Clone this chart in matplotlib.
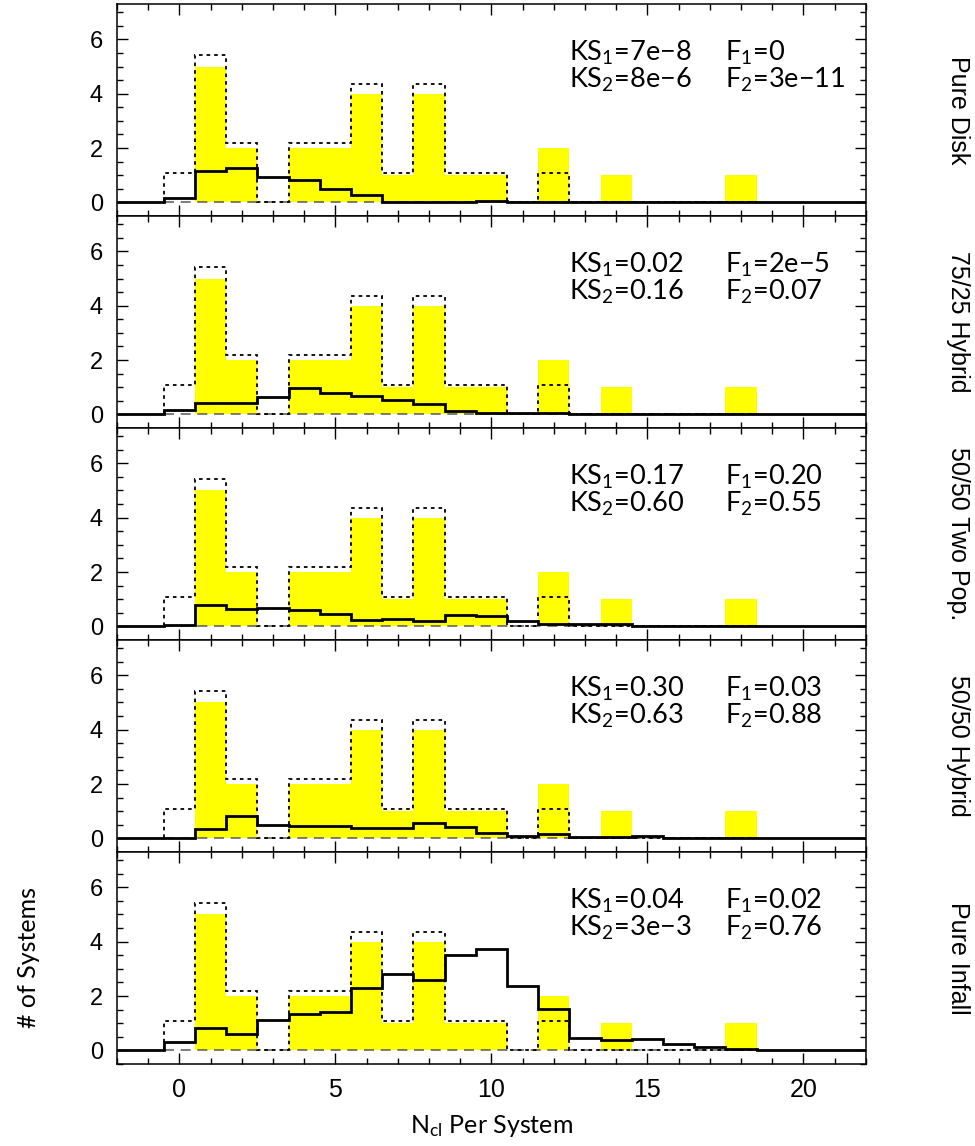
import numpy as np
import matplotlib.pyplot as plt
from matplotlib.ticker import MultipleLocator

plt.rcParams['font.family'] = ['Liberation Sans', 'DejaVu Sans']
plt.rcParams['mathtext.fontset'] = 'custom'
plt.rcParams['mathtext.rm'] = 'Lato'
plt.rcParams['mathtext.it'] = 'Lato:italic'

# ------------------------------------------------------------
# data: bin centres 0..20 (width 1)
# ------------------------------------------------------------
observed = [0, 5, 2, 0, 2, 2, 4, 1, 4, 1, 1, 0, 2, 0, 1, 0, 0, 0, 1, 0, 0]
# second (dotted) sample, bins 0..18
observed_alt = [1.09, 5.43, 2.17, 0, 2.17, 2.17, 4.35, 1.09, 4.35, 1.09,
                1.09, 0, 1.09, 0, 0, 0, 0, 0, 0]

pure_disk = [0.16, 1.14, 1.26, 0.94, 0.82, 0.51, 0.28, 0, 0, 0, 0.07,
             0, 0, 0, 0, 0, 0, 0, 0, 0, 0]
hybrid_75 = [0.17, 0.42, 0.42, 0.64, 0.96, 0.78, 0.69, 0.54, 0.37, 0.12,
             0.06, 0.05, 0.06, 0, 0, 0, 0, 0, 0, 0, 0]
two_pop = [0.04, 0.80, 0.65, 0.69, 0.59, 0.47, 0.22, 0.28, 0.21, 0.43,
           0.37, 0.21, 0.10, 0.10, 0.10, 0, 0, 0, 0, 0, 0]
hybrid_50 = [0, 0.34, 0.82, 0.50, 0.46, 0.46, 0.37, 0.37, 0.55, 0.41,
             0.19, 0.07, 0.17, 0.06, 0.05, 0.08, 0, 0, 0, 0, 0]
pure_infall = [0.32, 0.83, 0.62, 1.10, 1.32, 1.41, 2.29, 2.81, 2.60, 3.52,
               3.74, 2.35, 1.52, 0.46, 0.38, 0.43, 0.22, 0.11, 0.06, 0, 0]

models = [pure_disk, hybrid_75, two_pop, hybrid_50, pure_infall]
panel_names = ["Pure Disk", "75/25 Hybrid", "50/50 Two Pop.",
               "50/50 Hybrid", "Pure Infall"]
ks1 = ["7e\u22128", "0.02", "0.17", "0.30", "0.04"]
ks2 = ["8e\u22126", "0.16", "0.60", "0.63", "3e\u22123"]
f1 = ["0", "2e\u22125", "0.20", "0.03", "0.02"]
f2 = ["3e\u221211", "0.07", "0.55", "0.88", "0.76"]

# ------------------------------------------------------------
fig, axes = plt.subplots(5, 1, sharex=True, figsize=(9.75, 11.46), dpi=100)
fig.subplots_adjust(left=0.12, right=0.888, top=0.9965, bottom=0.0716,
                    hspace=0)

centres = np.arange(len(observed))
alt_edges = np.arange(len(observed_alt) + 1) - 0.5
model_edges = np.r_[-2, np.arange(len(pure_disk) + 1) - 0.5, 22]

thin = dict(family='Lato', color='black')

for i, ax in enumerate(axes):
    ax.bar(centres, observed, width=1.0, color='#ffff00', lw=0, zorder=1)
    ax.plot([-0.5, 18.5], [0, 0], color='0.4', lw=1.2,
            ls=(0, (6, 4)), zorder=2)
    ax.stairs(observed_alt, alt_edges, baseline=0, color='black', lw=1.3,
              ls=(0, (2, 2.2)), zorder=3)
    ax.stairs(np.r_[0, models[i], 0], model_edges, baseline=None,
              color='black', lw=2.0, zorder=4)

    ax.text(12.5, 5.2, r"KS$_{\mathrm{1}}$=" + ks1[i], fontsize=19.5,
            ha='left', va='baseline', **thin)
    ax.text(12.5, 4.2, r"KS$_{\mathrm{2}}$=" + ks2[i], fontsize=19.5,
            ha='left', va='baseline', **thin)
    ax.text(17.5, 5.2, r"F$_{\mathrm{1}}$=" + f1[i], fontsize=19.5,
            ha='left', va='baseline', **thin)
    ax.text(17.5, 4.2, r"F$_{\mathrm{2}}$=" + f2[i], fontsize=19.5,
            ha='left', va='baseline', **thin)

    ax.text(1.123, 0.5, panel_names[i], transform=ax.transAxes,
            rotation=-90, ha='center', va='center', fontsize=18)

    ax.set_xlim(-2, 22)
    ax.set_ylim(-0.5, 7.3)
    ax.xaxis.set_major_locator(MultipleLocator(5))
    ax.xaxis.set_minor_locator(MultipleLocator(1))
    ax.yaxis.set_major_locator(MultipleLocator(2))
    ax.yaxis.set_minor_locator(MultipleLocator(0.5))
    ax.tick_params(which='both', direction='in', top=True, right=True,
                   width=1.0, labelsize=17)
    ax.tick_params(which='major', length=8, pad=10)
    ax.tick_params(which='minor', length=4.5)
    for sp in ax.spines.values():
        sp.set_linewidth(1.1)

axes[-1].tick_params(axis='x', labelsize=18)
axes[-1].set_xlabel(r"N$_{\mathrm{cl}}$ Per System", fontsize=18,
                    labelpad=8, **thin)
axes[-1].set_ylabel("# of Systems", fontsize=18, labelpad=36, **thin)

fig.savefig("out.png", dpi=100)
